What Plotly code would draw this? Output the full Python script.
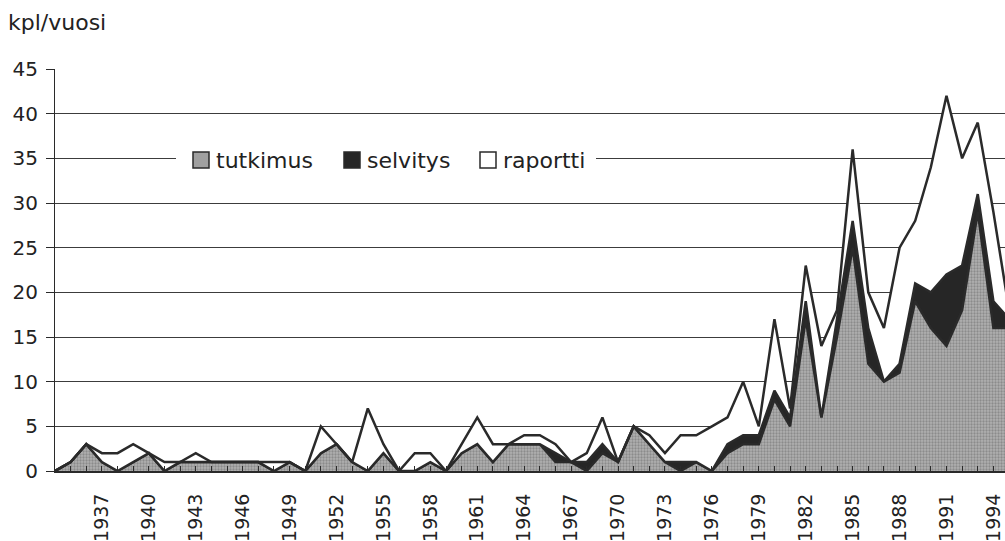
import plotly.graph_objects as go

years = list(range(1934, 1996))
tutkimus = [0, 1, 3, 1, 0, 1, 2, 0, 1, 1, 1, 1, 1, 1, 0, 1, 0, 2, 3, 1,
            0, 2, 0, 0, 1, 0, 2, 3, 1, 3, 3, 3, 1, 1, 0, 2, 1, 5, 3, 1,
            0, 1, 0, 2, 3, 3, 8, 5, 17, 6, 15, 25, 12, 10, 11, 19, 16, 14, 18, 29,
            16, 16]
selvitys = [0, 0, 0, 0, 0, 0, 0, 0, 0, 0, 0, 0, 0, 0, 0, 0, 0, 0, 0, 0,
            0, 0, 0, 0, 0, 0, 0, 0, 0, 0, 0, 0, 1, 0, 1, 1, 0, 0, 0, 0,
            1, 0, 0, 1, 1, 1, 1, 1, 2, 0, 2, 3, 4, 0, 1, 2, 4, 8, 5, 2,
            3, 1]
yhteensa = [0, 1, 3, 2, 2, 3, 2, 1, 1, 2, 1, 1, 1, 1, 1, 1, 0, 5, 3, 1,
            7, 3, 0, 2, 2, 0, 3, 6, 3, 3, 4, 4, 3, 1, 2, 6, 1, 5, 4, 2,
            4, 4, 5, 6, 10, 5, 17, 7, 23, 14, 18, 36, 20, 16, 25, 28, 34, 42, 35, 39,
            29, 18]
raportti = [t - a - b for t, a, b in zip(yhteensa, tutkimus, selvitys)]

tick_years = list(range(1937, 1995, 3))
tick_text = [str(y) for y in tick_years]
y_ticks = list(range(0, 46, 5))

FONT = "DejaVu Sans"
INK = "#2a2a2a"
W, H = 1005, 541
ML, MR, MT, MB = 55, 0, 69, 70
PW, PH = W - ML - MR, H - MT - MB
px_per_year = 15.64

fig = go.Figure()
fig.add_trace(go.Scatter(
    x=years, y=tutkimus, name="tutkimus", stackgroup="one", mode="lines",
    line=dict(color=INK, width=2.5),
    fillcolor="#a8a8a8",
    fillpattern=dict(shape=".", fgcolor="#666666", bgcolor="#b0b0b0", size=3, solidity=0.45),
))
fig.add_trace(go.Scatter(
    x=years, y=selvitys, name="selvitys", stackgroup="one", mode="lines",
    line=dict(color=INK, width=2.5), fillcolor="#262626",
))
fig.add_trace(go.Scatter(
    x=years, y=raportti, name="raportti", stackgroup="one", mode="lines",
    line=dict(color=INK, width=2.5), fillcolor="#ffffff",
))

def px2x(px):
    return (px - ML) / PW

def py2y(py):
    return (H - MB - py) / PH

shapes = [
    dict(type="rect", xref="paper", yref="paper", x0=px2x(176), x1=px2x(596),
         y0=py2y(176), y1=py2y(143), fillcolor="white", line=dict(width=0), layer="above"),
]
legend_items = [("tutkimus", 193, "#a0a0a0"), ("selvitys", 344, "#262626"), ("raportti", 480, "#ffffff")]
annotations = []
for name, bx, col in legend_items:
    shapes.append(dict(type="rect", xref="paper", yref="paper", x0=px2x(bx), x1=px2x(bx + 16),
                       y0=py2y(168), y1=py2y(152), fillcolor=col,
                       line=dict(color=INK, width=1.5), layer="above"))
    annotations.append(dict(text=name, xref="paper", yref="paper", x=px2x(bx + 21), y=py2y(160),
                            xanchor="left", yanchor="middle", showarrow=False,
                            font=dict(family=FONT, size=22, color="#222")))

fig.update_layout(
    width=W, height=H,
    margin=dict(l=ML, r=MR, t=MT, b=MB, autoexpand=False),
    paper_bgcolor="white", plot_bgcolor="white",
    showlegend=False,
    title=dict(text="kpl/vuosi", x=8 / W, y=1 - 22 / H, xanchor="left", yanchor="middle",
               font=dict(family=FONT, size=22, color="#222"), automargin=False),
    shapes=shapes, annotations=annotations,
    xaxis=dict(
        range=[1934, 1934 + PW / px_per_year],
        tickvals=tick_years, ticktext=tick_text, tickangle=-90,
        tickfont=dict(family=FONT, size=19, color="#222"),
        ticks="inside", ticklen=5, tickcolor=INK, tickwidth=1,
        minor=dict(dtick=1, tick0=1934, ticks="inside", ticklen=5, tickcolor=INK, tickwidth=1, showgrid=False),
        showgrid=False, zeroline=False,
        showline=True, linecolor=INK, linewidth=2,
        ticklabelstandoff=13, automargin=False,
    ),
    yaxis=dict(
        range=[0, 45], tickvals=y_ticks,
        tickfont=dict(family=FONT, size=20, color="#222"),
        ticks="outside", ticklen=8, tickcolor=INK, tickwidth=1,
        showgrid=True, gridcolor="#3c3c3c", gridwidth=1,
        zeroline=False, showline=True, linecolor=INK, linewidth=1,
        ticklabelstandoff=4, automargin=False,
    ),
)

fig.write_html("out.html",
               config={"displayModeBar": False},
               post_script="document.body.style.margin='0';document.body.style.overflow='hidden';")
